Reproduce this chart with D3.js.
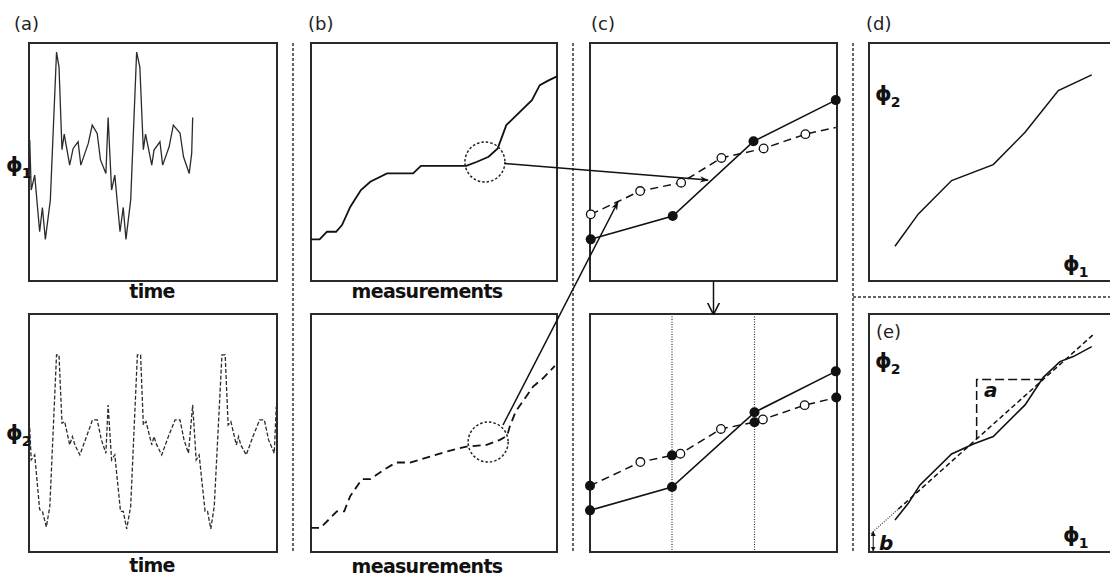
<!DOCTYPE html>
<html lang="en">
<head>
  <meta charset="UTF-8">
  <title>Phase synchronisation schematic</title>
  <script src="https://d3js.org/d3.v7.min.js"></script>
  <style>
    html, body { margin:0; background:#fff; }
    svg { display:block; }
    .box { fill:none; stroke:#2a2a2a; stroke-width:2px; }
    .sep { fill:none; stroke:#333; stroke-width:1.5px; stroke-dasharray:3,2; }
    .lbl { font:18px "DejaVu Sans", sans-serif; fill:#222; }
    .axis-t { font:bold 19px "DejaVu Sans", sans-serif; fill:#111; letter-spacing:-0.7px; }
    .phi { font:bold 21px "DejaVu Sans", sans-serif; fill:#111; }
    .sub { font:bold 14px "DejaVu Sans", sans-serif; fill:#111; }
    .ab { font:italic bold 20px "DejaVu Sans", sans-serif; fill:#111; }
  </style>
</head>
<body>
<svg id="fig" width="1110" height="576"></svg>
<script>
// ---- data (0..100 in each panel) ----
// (a) phase variable phi1 vs time, solid
const phi1Time = [[0.3,59.2],[0.9,38.2],[2.3,44.5],[4.3,20.7],[5.4,30.9],[6.6,17.5],[8.6,34.0],[11.1,96.2],[12.1,89.9],[13.3,55.2],[14.2,61.7],[16.4,48.7],[17.8,55.7],[19.8,58.5],[20.9,48.7],[23.9,57.8],[25.5,65.5],[27.5,62.0],[28.8,51.0],[31.0,45.2],[31.9,68.7],[33.3,38.2],[34.6,44.5],[36.7,20.7],[38.0,30.9],[39.1,17.5],[41.0,34.0],[43.4,96.2],[44.7,89.9],[46.1,55.2],[47.0,61.7],[49.5,48.7],[50.4,55.0],[52.8,58.5],[53.9,48.7],[56.5,56.4],[58.2,65.5],[60.9,62.2],[62.3,52.2],[64.6,45.2],[65.6,53.6],[66.0,68.7]];
// (a) phi2 vs time, dashed
const phi2Time = [[0.3,52.0],[0.9,38.7],[2.3,40.8],[4.3,17.8],[5.4,17.1],[7.0,10.5],[8.4,19.2],[11.1,82.8],[12.1,82.8],[13.3,54.1],[14.4,54.8],[16.4,45.0],[17.5,48.5],[18.5,45.0],[20.5,40.8],[23.2,48.5],[25.6,55.5],[27.5,55.5],[29.2,47.1],[31.0,41.5],[31.9,61.8],[33.3,38.7],[34.6,40.8],[36.9,17.1],[38.0,17.1],[39.4,9.7],[41.0,19.2],[43.7,82.8],[45.0,82.8],[46.1,53.4],[47.2,54.8],[49.5,45.0],[50.4,48.5],[51.5,45.0],[53.5,40.8],[56.2,48.5],[58.9,55.5],[60.9,55.5],[62.5,47.1],[64.3,41.5],[66.0,61.8],[67.4,38.7],[68.6,40.8],[71.0,17.1],[72.0,17.1],[73.3,9.7],[74.7,19.2],[77.8,82.8],[79.1,82.8],[80.3,53.4],[81.4,54.8],[83.6,45.0],[84.5,48.5],[85.4,45.0],[87.6,40.8],[90.3,48.5],[93.0,55.5],[94.9,55.5],[96.6,47.1],[98.9,41.5],[99.7,61.1]];
// (b) sorted measurements
const phi1Sorted = [[0,17.5],[3.5,17.5],[6.5,20.7],[10.2,20.7],[12.6,23.5],[16.0,31.2],[20.3,38.2],[24.1,41.7],[30.9,45.2],[41.5,45.2],[44.7,48.4],[63.1,48.4],[67.5,50.1],[72.2,52.2],[75.9,55.7],[79.4,65.5],[89.8,76.0],[93.0,82.3],[96.6,84.3],[100,86.0]];
const phi2Sorted = [[0,10.1],[3.8,10.1],[7.2,13.6],[10.5,17.1],[13.5,17.1],[15.9,23.4],[20.7,30.6],[24.1,30.6],[29.5,34.5],[34.6,37.6],[40.3,37.6],[48.4,40.1],[55.1,42.2],[63.2,44.3],[71.4,45.0],[76.8,47.1],[79.7,48.8],[80.8,52.7],[83.2,59.0],[90.3,69.5],[94.3,73.0],[99.1,78.2]];
const zoomCircles = [{panel:"b1", u:70.7, v:50.0}, {panel:"b2", u:72.0, v:46.2}];
// (c) local zoom: solid with filled points, dashed with open points
const cSolid = [[0.3,17.5],[33.5,27.3],[66.2,58.7],[99.5,76.0]];
const cDashedTop = [[0.3,28.0],[20.3,37.8],[36.9,41.3],[53.2,51.7],[70.3,55.7],[87.2,61.7],[99.5,64.5]];
const cOpenTop = [0.3,20.3,36.9,53.2,70.3,87.2];
const cSolidBot = [[0,17.5],[33.2,27.3],[66.6,58.7],[99.5,75.9]];
const cDashedBot = [[0,27.8],[20.4,37.8],[33.2,40.6],[36.6,41.3],[53.0,51.7],[66.6,54.5],[70.0,55.7],[86.9,61.7],[99.7,64.9]];
const cOpenBot = [20.4,36.6,53.0,70.0,86.9];
const cFilledBot = [0,33.2,66.6,99.7];
const cGrid = [33.2,66.6];
// (d) phi2 vs phi1 and (e) with linear fit
const phasePlot = [[11.1,14.6],[21.1,28.2],[35.3,42.2],[53.1,48.9],[66.7,62.5],[80.9,80.0],[95.2,86.6]];
const phasePlotE = [[11.1,13.4],[16.8,20.5],[21.8,28.2],[35.3,41.2],[44.6,45.4],[53.1,48.5],[66.7,61.8],[74.5,73.4],[81.6,80.0],[87.3,82.1],[95.2,86.3]];
const fitSlope = 0.88, fitIntercept = 7;
const fitRange = [12.5, 96], fitDotted = [0, 14];
const slopeTri = [46, 74.4];
// arrows between panels: [panel, u, v]
const arrows = [
  {from:0, to:["c1", 47.8, 42.4]},
  {from:1, to:["c1", 11.3, 33.2], start:[503,425]}
];

// ---- layout ----
const boxes = {
  a1:{x:29,y:43,w:248,h:238}, a2:{x:29,y:314,w:248,h:238},
  b1:{x:311,y:43,w:246,h:238}, b2:{x:311,y:314,w:246,h:238},
  c1:{x:590,y:43,w:247,h:238}, c2:{x:590,y:314,w:247,h:238},
  d:{x:869,y:43,w:234,h:238}, e:{x:869,y:314,w:234,h:238}
};
const sx = {}, sy = {};
Object.entries(boxes).forEach(([k,b]) => {
  sx[k] = d3.scaleLinear().domain([0,100]).range([b.x, b.x+b.w]);
  sy[k] = d3.scaleLinear().domain([0,100]).range([b.y+b.h, b.y]);
});
const line = k => d3.line().x(d=>sx[k](d[0])).y(d=>sy[k](d[1]));

const svg = d3.select("#fig");
const defs = svg.append("defs");
defs.append("marker").attr("id","head").attr("viewBox","0 0 10 10")
  .attr("refX",9).attr("refY",5).attr("markerWidth",12).attr("markerHeight",9)
  .attr("markerUnits","userSpaceOnUse").attr("orient","auto")
  .append("path").attr("d","M0,1.5 L10,5 L0,8.5 L3,5 Z").attr("fill","#111");
defs.append("marker").attr("id","vee").attr("viewBox","0 0 10 10")
  .attr("refX",9.5).attr("refY",5).attr("markerWidth",12).attr("markerHeight",14)
  .attr("markerUnits","userSpaceOnUse").attr("orient","auto")
  .append("path").attr("d","M0,0 L10,5 L0,10").attr("fill","none").attr("stroke","#111").attr("stroke-width",1.3);
defs.append("marker").attr("id","tick").attr("viewBox","0 0 10 10")
  .attr("refX",9).attr("refY",5).attr("markerWidth",5).attr("markerHeight",5)
  .attr("markerUnits","userSpaceOnUse").attr("orient","auto-start-reverse")
  .append("path").attr("d","M0,0 L10,5 L0,10 Z").attr("fill","#111");

// separators
[293,573,853].forEach(x => svg.append("line").attr("class","sep")
  .attr("x1",x).attr("x2",x).attr("y1",43).attr("y2",553));
svg.append("line").attr("class","sep").attr("stroke-dasharray","5,3")
  .attr("x1",853).attr("x2",1110).attr("y1",297).attr("y2",297);

// boxes (d and e run off the right edge)
Object.entries(boxes).forEach(([k,b]) => {
  if (k==="d" || k==="e")
    svg.append("path").attr("class","box")
      .attr("d",`M1112,${b.y} H${b.x} V${b.y+b.h} H1112`);
  else
    svg.append("rect").attr("class","box").attr("x",b.x).attr("y",b.y).attr("width",b.w).attr("height",b.h);
});

// (a)
svg.append("path").datum(phi1Time).attr("d",line("a1"))
  .attr("fill","none").attr("stroke","#2b2b2b").attr("stroke-width",1.3);
svg.append("path").datum(phi2Time).attr("d",line("a2"))
  .attr("fill","none").attr("stroke","#2b2b2b").attr("stroke-width",1.3).attr("stroke-dasharray","4,2");

// (b)
svg.append("path").datum(phi1Sorted).attr("d",line("b1"))
  .attr("fill","none").attr("stroke","#111").attr("stroke-width",1.8);
svg.append("path").datum(phi2Sorted).attr("d",line("b2"))
  .attr("fill","none").attr("stroke","#111").attr("stroke-width",1.8).attr("stroke-dasharray","8,5");
const circR = 20;
zoomCircles.forEach(c => svg.append("circle")
  .attr("cx",sx[c.panel](c.u)).attr("cy",sy[c.panel](c.v)).attr("r",circR)
  .attr("fill","none").attr("stroke","#222").attr("stroke-width",1.5).attr("stroke-dasharray","2.5,2"));

// (c) grid lines
cGrid.forEach(u => svg.append("line").attr("x1",sx.c2(u)).attr("x2",sx.c2(u))
  .attr("y1",boxes.c2.y).attr("y2",boxes.c2.y+boxes.c2.h)
  .attr("stroke","#333").attr("stroke-width",1.2).attr("stroke-dasharray","1,1.5"));

function cPanel(k, solid, dashed, openU, filledDashedU) {
  svg.append("path").datum(dashed).attr("d",line(k))
    .attr("fill","none").attr("stroke","#111").attr("stroke-width",1.5).attr("stroke-dasharray","8,5");
  svg.append("path").datum(solid).attr("d",line(k))
    .attr("fill","none").attr("stroke","#111").attr("stroke-width",1.6);
  const dashY = u => dashed.find(d=>d[0]===u)[1];
  svg.selectAll(null).data(openU).join("circle")
    .attr("cx",u=>sx[k](u)).attr("cy",u=>sy[k](dashY(u))).attr("r",4.3)
    .attr("fill","#fff").attr("stroke","#111").attr("stroke-width",1.3);
  svg.selectAll(null).data(filledDashedU).join("circle")
    .attr("cx",u=>sx[k](u)).attr("cy",u=>sy[k](dashY(u))).attr("r",5).attr("fill","#111");
  svg.selectAll(null).data(solid).join("circle")
    .attr("cx",d=>sx[k](d[0])).attr("cy",d=>sy[k](d[1])).attr("r",5).attr("fill","#111");
}
cPanel("c1", cSolid, cDashedTop, cOpenTop, []);
cPanel("c2", cSolidBot, cDashedBot, cOpenBot, cFilledBot);

// arrows from (b) circles to (c)
arrows.forEach(a => {
  const c = zoomCircles[a.from];
  const cx = sx[c.panel](c.u), cy = sy[c.panel](c.v);
  const tx = sx[a.to[0]](a.to[1]), ty = sy[a.to[0]](a.to[2]);
  let start = a.start;
  if (!start) {
    const dx = tx-cx, dy = ty-cy, L = Math.hypot(dx,dy);
    start = [cx+dx/L*circR, cy+dy/L*circR];
  }
  svg.append("line").attr("x1",start[0]).attr("y1",start[1]).attr("x2",tx).attr("y2",ty)
    .attr("stroke","#111").attr("stroke-width",1.5).attr("marker-end","url(#head)");
});
// arrow down (c) top -> (c) bottom
const midC = sx.c1(50);
svg.append("line").attr("x1",midC).attr("x2",midC)
  .attr("y1",boxes.c1.y+boxes.c1.h+1).attr("y2",boxes.c2.y)
  .attr("stroke","#111").attr("stroke-width",1.5).attr("marker-end","url(#vee)");

// (d)
svg.append("path").datum(phasePlot).attr("d",line("d"))
  .attr("fill","none").attr("stroke","#111").attr("stroke-width",1.5);

// (e)
const fit = u => fitSlope*u + fitIntercept;
svg.append("path").datum(phasePlotE).attr("d",line("e"))
  .attr("fill","none").attr("stroke","#111").attr("stroke-width",1.6);
svg.append("path").datum(fitRange.map(u=>[u,fit(u)])).attr("d",line("e"))
  .attr("fill","none").attr("stroke","#111").attr("stroke-width",1.5).attr("stroke-dasharray","5,3");
svg.append("path").datum(fitDotted.map(u=>[u,fit(u)])).attr("d",line("e"))
  .attr("fill","none").attr("stroke","#333").attr("stroke-width",1.2).attr("stroke-dasharray","1,1.5");
svg.append("path")
  .datum([[slopeTri[0],fit(slopeTri[0])],[slopeTri[0],fit(slopeTri[1])],[slopeTri[1],fit(slopeTri[1])]])
  .attr("d",line("e")).attr("fill","none").attr("stroke","#111").attr("stroke-width",1.5).attr("stroke-dasharray","9,4");
svg.append("line").attr("x1",sx.e(1.8)).attr("x2",sx.e(1.8))
  .attr("y1",sy.e(0)-1).attr("y2",sy.e(fit(1.8)))
  .attr("stroke","#111").attr("stroke-width",1).attr("marker-start","url(#tick)").attr("marker-end","url(#tick)");

// ---- text ----
const text = (x,y,cls,s) => svg.append("text").attr("class",cls).attr("x",x).attr("y",y).text(s);
text(14,30,"lbl","(a)"); text(308,30,"lbl","(b)"); text(591,30,"lbl","(c)"); text(866,30,"lbl","(d)");
text(876,338,"lbl","(e)");
text(152,298,"axis-t","time").attr("text-anchor","middle");
text(152,572,"axis-t","time").attr("text-anchor","middle");
text(427,298,"axis-t","measurements").attr("text-anchor","middle");
text(427,573,"axis-t","measurements").attr("text-anchor","middle");
// phi with subscript; subscript placed just after the glyph
function phi(x,y,n){
  const t = text(x,y,"phi","ϕ");
  const w = t.node().getComputedTextLength();
  text(x+w-1,y+6,"sub",n);
}
phi(6,172,"1"); phi(6,440,"2");
phi(875,101,"2"); phi(1063,271,"1");
phi(875,368,"2"); phi(1063,542,"1");
text(984,397,"ab","a");
text(879,550,"ab","b");
</script>
</body>
</html>
